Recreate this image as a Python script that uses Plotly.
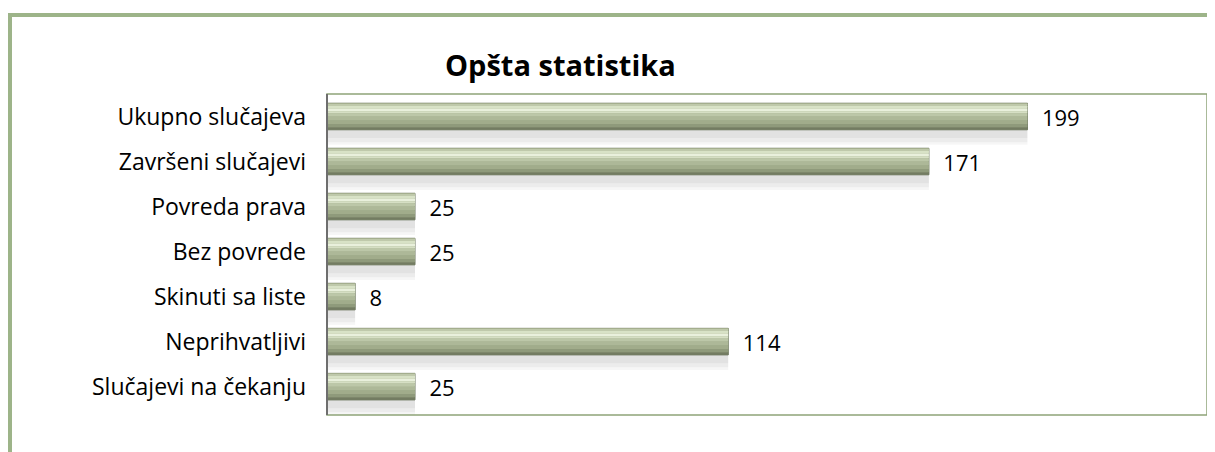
import plotly.graph_objects as go

categories = ["Ukupno slučajeva", "Završeni slučajevi", "Povreda prava", "Bez povrede",
              "Skinuti sa liste", "Neprihvatljivi", "Slučajevi na čekanju"]
values = [199, 171, 25, 25, 8, 114, 25]
title_text = "Opšta statistika"

# page has an 8px body margin; figure pixel = page pixel - 8
OFF = 8
W, H = 1215 - OFF, 452 - OFF
ML, MR, MT, MB = 327 - OFF, 1215 - 1207, 94 - OFF, 452 - 415
PW, PH = W - ML - MR, H - MT - MB

BAR_W = 0.59
top = -BAR_W / 2
# bevel bands (fraction from top, fraction to, colour)
bands = [
    (0.00, 0.06, "#a4ae8e"),
    (0.06, 0.13, "#bfc9ab"),
    (0.13, 0.20, "#d8e2c6"),
    (0.20, 0.30, "#e9f0dc"),
    (0.30, 0.38, "#d6dfc4"),
    (0.38, 0.50, "#bcc7a8"),
    (0.50, 0.64, "#adb898"),
    (0.64, 0.78, "#a1ac8b"),
    (0.78, 0.90, "#8f9a7b"),
    (0.90, 1.00, "#737c62"),
]

fig = go.Figure()

# soft shadow
for off, wd, a in [(0.05, 0.58, 0.035), (0.12, 0.45, 0.04), (0.2, 0.28, 0.04)]:
    fig.add_trace(go.Bar(y=categories, x=values, orientation="h", offset=off, width=wd,
                         marker=dict(color=f"rgba(0,0,0,{a})", line=dict(width=0)),
                         hoverinfo="skip", showlegend=False))

# base bar with labels
fig.add_trace(go.Bar(y=categories, x=values, orientation="h", offset=top, width=BAR_W,
                     marker=dict(color="#a3ae8c", line=dict(color="#6f7961", width=1)),
                     text=values, texttemplate="\u00a0\u00a0%{x}", textposition="outside",
                     cliponaxis=False, constraintext="none",
                     textfont=dict(family="Open Sans", size=22, color="#000000"),
                     outsidetextfont=dict(family="Open Sans", size=22, color="#000000"),
                     showlegend=False))
for f0, f1, c in bands:
    fig.add_trace(go.Bar(y=categories, x=values, orientation="h",
                         offset=top + f0 * BAR_W, width=(f1 - f0) * BAR_W,
                         marker=dict(color=c, line=dict(width=0)),
                         hoverinfo="skip", showlegend=False))

def px(xp):
    return (xp - OFF - ML) / PW

def py(yp):
    return (H - MB - (yp - OFF)) / PH

shapes = [
    # plot area border
    dict(type="rect", xref="paper", yref="paper", x0=0, x1=1, y0=0, y1=1,
         line=dict(color="#8fa478", width=1.5), layer="above"),
    dict(type="line", xref="paper", yref="paper", x0=0, x1=0, y0=0, y1=1,
         line=dict(color="#6e6e6e", width=2), layer="above"),
    # outer frame
    dict(type="line", xref="paper", yref="paper", x0=px(8), x1=px(1215), y0=py(15), y1=py(15),
         line=dict(color="#9db489", width=4)),
    dict(type="line", xref="paper", yref="paper", x0=px(10), x1=px(10), y0=py(13), y1=py(452),
         line=dict(color="#9db489", width=4)),
]

fig.update_layout(
    width=W, height=H,
    margin=dict(l=ML, r=MR, t=MT, b=MB),
    paper_bgcolor="white", plot_bgcolor="white",
    barmode="overlay",
    shapes=shapes,
    annotations=[dict(text=f"<b>{title_text}</b>", xref="paper", yref="paper",
                      x=px(560), y=py(64), xanchor="center", yanchor="middle",
                      showarrow=False, font=dict(family="Open Sans", size=29, color="#000000"))],
    xaxis=dict(range=[0, 250], visible=False, showgrid=False, zeroline=False),
    yaxis=dict(autorange="reversed", showgrid=False, zeroline=False, showline=False,
               ticks="", ticklabelstandoff=20,
               tickfont=dict(family="Open Sans", size=23, color="#000000")),
    font=dict(family="Open Sans"),
)

fig.write_html("out.html")
